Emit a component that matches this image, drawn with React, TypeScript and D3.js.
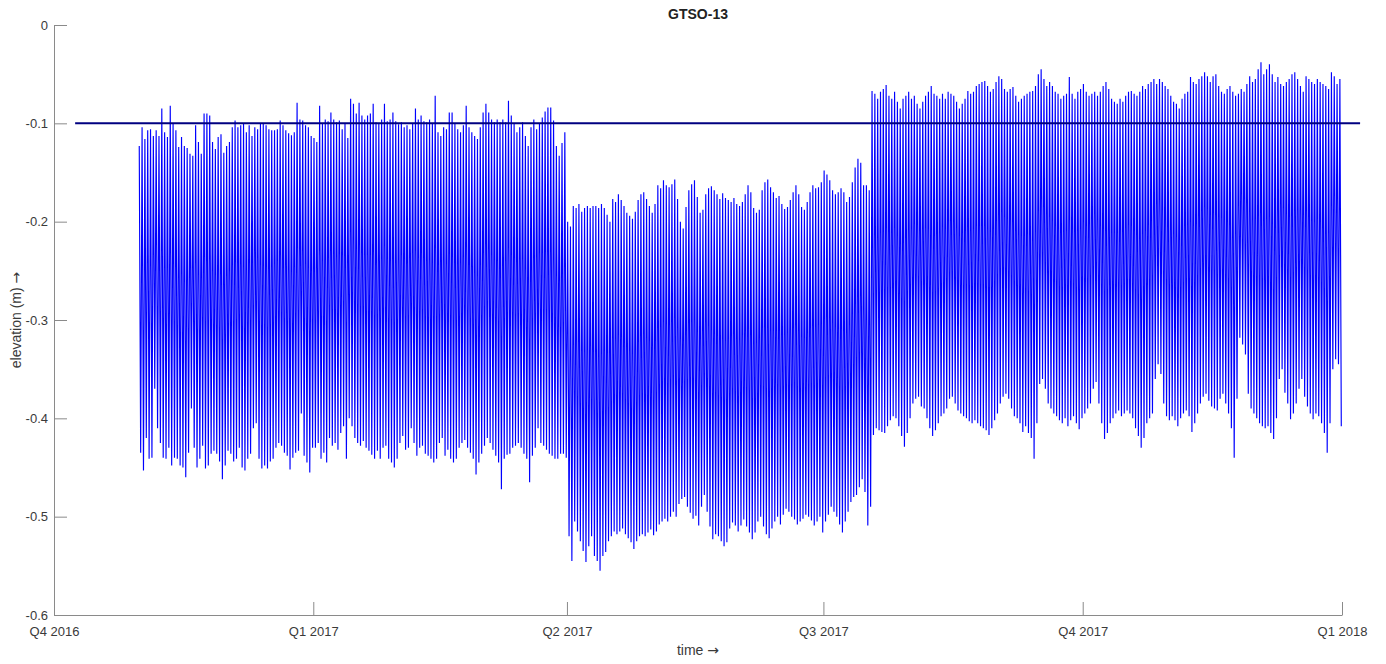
import React, { useEffect, useRef } from "react";
import * as d3 from "d3";

// ---- data -------------------------------------------------------------
// Daily water-level extremes (m) at station GTSO-13, first day 31 Oct 2016.
const seriesStart = Date.UTC(2016, 9, 31);

const highQ4_2016 = [
  -0.123, -0.104, -0.116, -0.107, -0.106, -0.113, -0.107, -0.113, -0.085, -0.109,
  -0.114, -0.082, -0.100, -0.107, -0.124, -0.114, -0.123, -0.125, -0.131, -0.133,
  -0.102, -0.119, -0.131, -0.090, -0.090, -0.092, -0.119, -0.126, -0.114, -0.111,
  -0.130, -0.123, -0.119, -0.104, -0.097, -0.104, -0.102, -0.100, -0.109, -0.102,
  -0.113, -0.104, -0.106, -0.100, -0.100, -0.102, -0.106, -0.107, -0.107, -0.106,
  -0.097, -0.102, -0.107, -0.110, -0.112, -0.109, -0.079, -0.096, -0.097, -0.102,
  -0.104, -0.113,
];
const lowQ4_2016 = [
  -0.435, -0.453, -0.420, -0.441, -0.440, -0.370, -0.410, -0.425, -0.440, -0.441,
  -0.430, -0.448, -0.440, -0.441, -0.448, -0.450, -0.460, -0.435, -0.390, -0.430,
  -0.450, -0.441, -0.428, -0.451, -0.448, -0.436, -0.433, -0.436, -0.444, -0.462,
  -0.448, -0.433, -0.436, -0.444, -0.441, -0.430, -0.450, -0.453, -0.441, -0.436,
  -0.410, -0.405, -0.441, -0.451, -0.448, -0.451, -0.444, -0.441, -0.430, -0.425,
  -0.428, -0.435, -0.438, -0.452, -0.440, -0.435, -0.433, -0.395, -0.438, -0.445,
  -0.455, -0.430,
];

const highQ1_2017 = [
  -0.115, -0.119, -0.082, -0.100, -0.096, -0.098, -0.089, -0.096, -0.099, -0.097,
  -0.106, -0.100, -0.115, -0.075, -0.080, -0.090, -0.079, -0.092, -0.096, -0.092,
  -0.090, -0.080, -0.099, -0.100, -0.096, -0.080, -0.098, -0.096, -0.089, -0.098,
  -0.101, -0.099, -0.104, -0.102, -0.106, -0.100, -0.085, -0.096, -0.092, -0.098,
  -0.099, -0.096, -0.100, -0.072, -0.109, -0.113, -0.104, -0.106, -0.089, -0.089,
  -0.100, -0.106, -0.109, -0.102, -0.082, -0.104, -0.109, -0.113, -0.116, -0.104,
  -0.089, -0.080, -0.089, -0.096, -0.099, -0.096, -0.099, -0.096, -0.099, -0.077,
  -0.092, -0.100, -0.109, -0.104, -0.099, -0.113, -0.123, -0.104, -0.096, -0.106,
  -0.100, -0.094, -0.088, -0.084, -0.084, -0.097, -0.123, -0.133, -0.120, -0.109,
];
const lowQ1_2017 = [
  -0.430, -0.425, -0.441, -0.435, -0.445, -0.420, -0.428, -0.425, -0.432, -0.415,
  -0.408, -0.441, -0.400, -0.408, -0.420, -0.425, -0.428, -0.423, -0.430, -0.433,
  -0.437, -0.441, -0.433, -0.441, -0.430, -0.428, -0.441, -0.445, -0.450, -0.441,
  -0.425, -0.418, -0.432, -0.430, -0.410, -0.425, -0.438, -0.430, -0.428, -0.436,
  -0.438, -0.441, -0.445, -0.441, -0.425, -0.420, -0.438, -0.432, -0.441, -0.445,
  -0.441, -0.430, -0.425, -0.422, -0.430, -0.435, -0.441, -0.457, -0.445, -0.436,
  -0.428, -0.420, -0.425, -0.432, -0.438, -0.445, -0.472, -0.441, -0.437, -0.436,
  -0.430, -0.428, -0.425, -0.430, -0.436, -0.441, -0.465, -0.438, -0.430, -0.410,
  -0.425, -0.428, -0.432, -0.436, -0.438, -0.441, -0.441, -0.436, -0.436, -0.440,
];

const highQ2_2017 = [
  -0.200, -0.205, -0.184, -0.186, -0.182, -0.190, -0.186, -0.184, -0.186, -0.184,
  -0.184, -0.186, -0.182, -0.186, -0.193, -0.200, -0.177, -0.180, -0.172, -0.178,
  -0.184, -0.191, -0.194, -0.197, -0.190, -0.178, -0.172, -0.170, -0.177, -0.184,
  -0.191, -0.182, -0.163, -0.166, -0.158, -0.163, -0.165, -0.162, -0.157, -0.177,
  -0.200, -0.207, -0.185, -0.168, -0.162, -0.158, -0.175, -0.191, -0.188, -0.172,
  -0.166, -0.164, -0.168, -0.172, -0.177, -0.171, -0.176, -0.178, -0.180, -0.176,
  -0.182, -0.184, -0.180, -0.172, -0.163, -0.170, -0.186, -0.191, -0.188, -0.168,
  -0.160, -0.157, -0.165, -0.170, -0.176, -0.174, -0.182, -0.187, -0.185, -0.178,
  -0.170, -0.163, -0.172, -0.185, -0.188, -0.180, -0.170, -0.163, -0.166, -0.165,
  -0.160,
];
const lowQ2_2017 = [
  -0.520, -0.545, -0.505, -0.515, -0.525, -0.535, -0.546, -0.530, -0.520, -0.540,
  -0.545, -0.555, -0.540, -0.536, -0.525, -0.520, -0.515, -0.518, -0.515, -0.512,
  -0.518, -0.522, -0.526, -0.533, -0.525, -0.520, -0.518, -0.520, -0.516, -0.513,
  -0.519, -0.515, -0.508, -0.505, -0.502, -0.505, -0.500, -0.495, -0.500, -0.487,
  -0.482, -0.480, -0.490, -0.496, -0.502, -0.499, -0.509, -0.490, -0.478, -0.495,
  -0.510, -0.523, -0.518, -0.520, -0.525, -0.530, -0.526, -0.512, -0.506, -0.509,
  -0.515, -0.509, -0.503, -0.510, -0.516, -0.523, -0.516, -0.505, -0.500, -0.510,
  -0.518, -0.522, -0.512, -0.505, -0.500, -0.508, -0.498, -0.492, -0.495, -0.500,
  -0.503, -0.508, -0.505, -0.502, -0.498, -0.500, -0.504, -0.509, -0.505, -0.500,
  -0.516,
];

const highQ3_2017 = [
  -0.148, -0.152, -0.158, -0.168, -0.172, -0.170, -0.166, -0.170, -0.180, -0.175,
  -0.160, -0.145, -0.136, -0.140, -0.163, -0.163, -0.168, -0.067, -0.070, -0.075,
  -0.068, -0.065, -0.061, -0.072, -0.075, -0.068, -0.078, -0.085, -0.075, -0.072,
  -0.068, -0.075, -0.072, -0.080, -0.085, -0.078, -0.072, -0.068, -0.062, -0.070,
  -0.072, -0.075, -0.070, -0.075, -0.068, -0.070, -0.072, -0.078, -0.085, -0.080,
  -0.075, -0.067, -0.070, -0.068, -0.062, -0.060, -0.058, -0.057, -0.062, -0.068,
  -0.065, -0.058, -0.052, -0.055, -0.065, -0.068, -0.065, -0.063, -0.072, -0.078,
  -0.075, -0.072, -0.070, -0.068, -0.067, -0.062, -0.050, -0.045, -0.055, -0.062,
  -0.058, -0.062, -0.068, -0.070, -0.075, -0.072, -0.070, -0.053, -0.070, -0.075,
  -0.068, -0.065,
];
const lowQ3_2017 = [
  -0.505, -0.498, -0.490, -0.495, -0.500, -0.508, -0.516, -0.505, -0.495, -0.485,
  -0.480, -0.478, -0.470, -0.462, -0.475, -0.509, -0.490, -0.417, -0.410, -0.412,
  -0.414, -0.415, -0.408, -0.402, -0.398, -0.400, -0.408, -0.418, -0.429, -0.415,
  -0.400, -0.385, -0.380, -0.378, -0.388, -0.390, -0.400, -0.410, -0.418, -0.412,
  -0.405, -0.398, -0.395, -0.390, -0.380, -0.378, -0.385, -0.392, -0.395, -0.398,
  -0.400, -0.403, -0.405, -0.402, -0.405, -0.408, -0.410, -0.412, -0.417, -0.410,
  -0.402, -0.395, -0.385, -0.378, -0.375, -0.380, -0.390, -0.398, -0.400, -0.405,
  -0.414, -0.408, -0.415, -0.420, -0.441, -0.405, -0.365, -0.360, -0.370, -0.385,
  -0.390, -0.395, -0.398, -0.402, -0.405, -0.400, -0.408, -0.402, -0.398, -0.405,
  -0.411, -0.400,
];

const highQ4_2017 = [
  -0.060, -0.068, -0.072, -0.070, -0.068, -0.072, -0.068, -0.062, -0.058, -0.065,
  -0.075, -0.078, -0.080, -0.075, -0.078, -0.072, -0.068, -0.067, -0.070, -0.072,
  -0.068, -0.062, -0.065, -0.060, -0.058, -0.055, -0.060, -0.055, -0.058, -0.062,
  -0.065, -0.072, -0.078, -0.080, -0.085, -0.075, -0.070, -0.068, -0.053, -0.058,
  -0.060, -0.055, -0.052, -0.048, -0.052, -0.058, -0.052, -0.050, -0.062, -0.068,
  -0.070, -0.065, -0.062, -0.068, -0.072, -0.070, -0.065, -0.068, -0.060, -0.052,
  -0.058, -0.055, -0.045, -0.038, -0.050, -0.045, -0.040, -0.050, -0.058, -0.053,
  -0.060, -0.062, -0.058, -0.055, -0.050, -0.048, -0.055, -0.062, -0.068, -0.052,
  -0.055, -0.058, -0.060, -0.055, -0.058, -0.060, -0.062, -0.065, -0.048, -0.052,
  -0.060, -0.055,
];
const lowQ4_2017 = [
  -0.395, -0.390, -0.385, -0.370, -0.363, -0.385, -0.405, -0.421, -0.415, -0.405,
  -0.400, -0.395, -0.392, -0.398, -0.395, -0.392, -0.395, -0.400, -0.410, -0.418,
  -0.430, -0.420, -0.405, -0.400, -0.395, -0.360, -0.345, -0.355, -0.385, -0.398,
  -0.402, -0.398, -0.402, -0.408, -0.400, -0.395, -0.392, -0.398, -0.414, -0.405,
  -0.395, -0.385, -0.378, -0.375, -0.382, -0.388, -0.390, -0.392, -0.380, -0.375,
  -0.385, -0.395, -0.410, -0.440, -0.380, -0.318, -0.325, -0.335, -0.375, -0.390,
  -0.395, -0.400, -0.405, -0.408, -0.410, -0.408, -0.415, -0.421, -0.400, -0.360,
  -0.350, -0.374, -0.385, -0.401, -0.395, -0.385, -0.370, -0.360, -0.378, -0.388,
  -0.395, -0.401, -0.395, -0.398, -0.405, -0.415, -0.435, -0.405, -0.350, -0.340,
  -0.345, -0.408,
];

// Reference level and the span it is drawn over
const referenceLevel = -0.1;
const referenceFrom = Date.UTC(2016, 9, 8, 12);
const referenceTo = Date.UTC(2018, 0, 7, 10);

// Axis ticks
const yTickValues = [0, -0.1, -0.2, -0.3, -0.4, -0.5, -0.6];
const xTickDates = [
  Date.UTC(2016, 9, 1),
  Date.UTC(2017, 0, 1),
  Date.UTC(2017, 3, 1),
  Date.UTC(2017, 6, 1),
  Date.UTC(2017, 9, 1),
  Date.UTC(2018, 0, 1),
];
const xTickLabels = ["Q4 2016", "Q1 2017", "Q2 2017", "Q3 2017", "Q4 2017", "Q1 2018"];

const chartTitle = "GTSO-13";
const xAxisTitle = "time ";
const yAxisTitle = "elevation (m) ";
const ARROW = "\u2192";

// ---- layout -----------------------------------------------------------
const WIDTH = 1386;
const HEIGHT = 664;
const margin = { left: 54, right: 44, top: 25, bottom: 49 };
const FONT = "'Liberation Sans', Arial, Helvetica, sans-serif";
const ARROW_FONT = "'DejaVu Sans', sans-serif";
const DAY = 86400000;

export default function App() {
  const ref = useRef<SVGSVGElement>(null);

  useEffect(() => {
    const svg = d3.select(ref.current);
    svg.selectAll("*").remove();

    const x = d3
      .scaleUtc()
      .domain([new Date(xTickDates[0]), new Date(xTickDates[xTickDates.length - 1])])
      .range([margin.left, WIDTH - margin.right]);
    const y = d3
      .scaleLinear()
      .domain([-0.6, 0])
      .range([HEIGHT - margin.bottom, margin.top]);

    const highs = [...highQ4_2016, ...highQ1_2017, ...highQ2_2017, ...highQ3_2017, ...highQ4_2017];
    const lows = [...lowQ4_2016, ...lowQ1_2017, ...lowQ2_2017, ...lowQ3_2017, ...lowQ4_2017];

    // one high water and one low water per day
    const points: [Date, number][] = [];
    highs.forEach((h, i) => {
      points.push([new Date(seriesStart + (i + 0.25) * DAY), h]);
      points.push([new Date(seriesStart + (i + 0.75) * DAY), lows[i]]);
    });

    const line = d3
      .line<[Date, number]>()
      .x((d) => x(d[0]))
      .y((d) => y(d[1]));

    svg
      .append("path")
      .attr("d", line(points))
      .attr("fill", "none")
      .attr("stroke", "#0000ff")
      .attr("stroke-width", 1.15)
      .attr("stroke-linejoin", "bevel");

    // reference level
    svg
      .append("line")
      .attr("x1", x(new Date(referenceFrom)))
      .attr("x2", x(new Date(referenceTo)))
      .attr("y1", y(referenceLevel))
      .attr("y2", y(referenceLevel))
      .attr("stroke", "#000080")
      .attr("stroke-width", 2);

    // axes
    const axisColor = "#8a8a8a";
    const textColor = "#3a3a3a";

    const yAxis = d3
      .axisLeft(y)
      .tickValues(yTickValues)
      .tickSizeInner(-13)
      .tickSizeOuter(0)
      .tickPadding(6)
      .tickFormat((v) => (v === 0 ? "0" : (v as number).toFixed(1)));
    const gy = svg.append("g").attr("transform", `translate(${margin.left},0)`).call(yAxis);

    const xAxis = d3
      .axisBottom(x)
      .tickValues(xTickDates.map((t) => new Date(t)))
      .tickSizeInner(-13)
      .tickSizeOuter(0)
      .tickPadding(12)
      .tickFormat((_, i) => xTickLabels[i]);
    const gx = svg
      .append("g")
      .attr("transform", `translate(0,${HEIGHT - margin.bottom})`)
      .call(xAxis);

    [gx, gy].forEach((g) => {
      g.select(".domain").attr("stroke", axisColor).attr("stroke-width", 1);
      g.selectAll(".tick line").attr("stroke", axisColor).attr("stroke-width", 1);
      g.selectAll(".tick text")
        .attr("fill", textColor)
        .style("font-family", FONT)
        .style("font-size", "13px");
    });

    // titles
    svg
      .append("text")
      .attr("x", 698)
      .attr("y", 19)
      .attr("text-anchor", "middle")
      .style("font-family", FONT)
      .style("font-size", "14px")
      .style("font-weight", "bold")
      .attr("fill", "#222")
      .text(chartTitle);

    const xt = svg
      .append("text")
      .attr("x", 698)
      .attr("y", 655)
      .attr("text-anchor", "middle")
      .style("font-family", FONT)
      .style("font-size", "14px")
      .attr("fill", textColor);
    xt.append("tspan").text(xAxisTitle);
    xt.append("tspan").style("font-family", ARROW_FONT).text(ARROW);

    const yt = svg
      .append("text")
      .attr("transform", `translate(21,${(margin.top + HEIGHT - margin.bottom) / 2}) rotate(-90)`)
      .attr("text-anchor", "middle")
      .style("font-family", FONT)
      .style("font-size", "14px")
      .attr("fill", textColor);
    yt.append("tspan").text(yAxisTitle);
    yt.append("tspan").style("font-family", ARROW_FONT).text(ARROW);
  }, []);

  return (
    <svg
      ref={ref}
      width={WIDTH}
      height={HEIGHT}
      style={{ position: "absolute", left: 0, top: 0, background: "#fff", display: "block" }}
    />
  );
}
